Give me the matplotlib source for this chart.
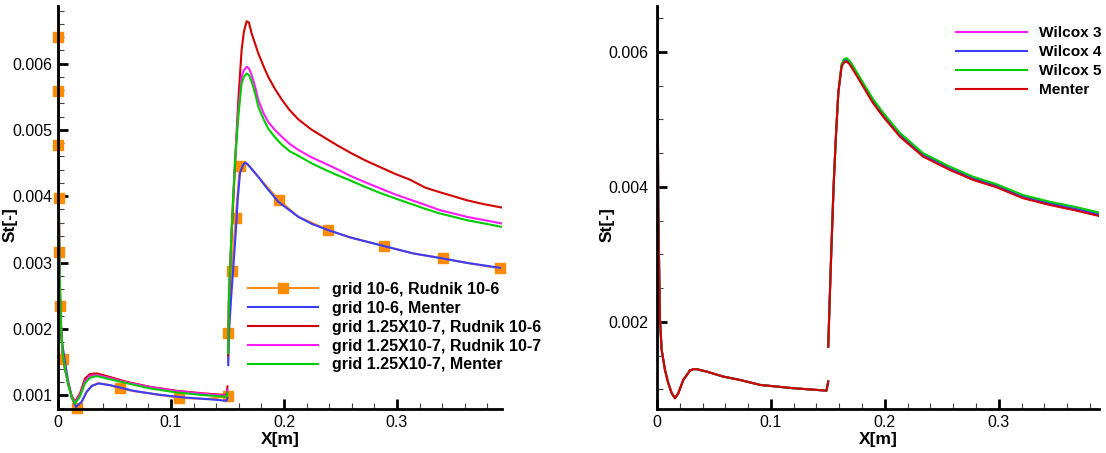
import numpy as np
import matplotlib
matplotlib.use("Agg")
import matplotlib.pyplot as plt
from matplotlib.ticker import MultipleLocator, FixedLocator, FixedFormatter

plt.rcParams['font.family'] = ['Liberation Sans', 'DejaVu Sans']

nan = np.nan

# ---------------- left panel data ----------------
# grid 10-6, Rudnik 10-6 (orange, markers at selected points)
or_x = [0.0, 0.0003, 0.0003, 0.0003, 0.0005, 0.0009, 0.0018, 0.0041, 0.0091, 0.0121,
        0.0165, 0.021, 0.0254, 0.0298, 0.0357, 0.046, 0.0549, 0.0667, 0.0873, 0.1074,
        0.1316, 0.1502, nan, 0.1505, 0.1507, 0.1537, 0.1572, 0.1610, 0.1655, 0.1700,
        0.1773, 0.1956, 0.2127, 0.2392, 0.2584, 0.2888, 0.3145, 0.3404, 0.3617, 0.3912]
or_y = [0.00687, 0.006395, 0.005585, 0.004771, 0.003967, 0.003162, 0.002347, 0.001538, 0.00118, 0.00096,
        0.00080, 0.00090, 0.00105, 0.00114, 0.00118, 0.00115, 0.00110, 0.00106, 0.00101, 0.00096,
        0.00094, 0.00098, nan, 0.00150, 0.00194, 0.002875, 0.003665, 0.00446, 0.00451, 0.00444,
        0.00429, 0.00394, 0.00369, 0.00349, 0.00338, 0.003247, 0.003137, 0.003062, 0.002995, 0.002912]
or_marks = [1, 2, 3, 4, 5, 6, 7, 10, 16, 19, 21, 24, 25, 26, 27, 31, 33, 35, 37, 39]

# grid 10-6, Menter (blue)
bl_x = [0.0, 0.0002, 0.0005, 0.001, 0.0018, 0.0033, 0.0062, 0.0091, 0.0121, 0.0159,
        0.021, 0.0254, 0.0298, 0.0357, 0.046, 0.0667, 0.0873, 0.1109, 0.1316, 0.1493, 0.1500,
        nan, 0.1507, 0.1513, 0.1531, 0.1552, 0.1573, 0.159, 0.1611, 0.1635, 0.1655, 0.1675,
        0.170, 0.1735, 0.1773, 0.185, 0.195, 0.2127, 0.225, 0.2392, 0.2584, 0.2888, 0.3145,
        0.3404, 0.3617, 0.3912]
bl_y = [0.0075, 0.0058, 0.0042, 0.0031, 0.00225, 0.00183, 0.00150, 0.00120, 0.00097, 0.00082,
        0.00090, 0.00105, 0.001136, 0.001176, 0.00115, 0.001065, 0.00101, 0.000965, 0.00094, 0.000914, 0.00096,
        nan, 0.00145, 0.00193, 0.00243, 0.002935, 0.00344, 0.00394, 0.00435, 0.00446, 0.004504, 0.00449,
        0.00444, 0.00437, 0.004293, 0.00412, 0.003916, 0.003689, 0.00358, 0.003489, 0.003379, 0.003247, 0.003137,
        0.003062, 0.002995, 0.00292]

# shared x for the fine grid curves
fg_x = [0.0, 0.0003, 0.0008, 0.0015, 0.0025, 0.0040, 0.0062, 0.0091, 0.0121, 0.0150,
        0.0195, 0.0239, 0.0283, 0.0342, 0.0431, 0.0608, 0.0814, 0.105, 0.1286, 0.1493, 0.1500,
        nan, 0.1505, 0.1513, 0.1537, 0.1566, 0.1596, 0.1625, 0.1645, 0.1670, 0.1690, 0.1714,
        0.1745, 0.1773, 0.1820, 0.1861, 0.1920, 0.198, 0.2050, 0.2127, 0.2240, 0.2363,
        0.2470, 0.2584, 0.2720, 0.2850, 0.2980, 0.3115, 0.3250, 0.3380, 0.3500, 0.3617,
        0.3770, 0.3926]

# grid 1.25X10-7, Rudnik 10-6 (red)
rd_y = [0.0075, 0.0055, 0.0038, 0.0028, 0.0021, 0.00165, 0.00140, 0.00117, 0.00099, 0.00090,
        0.001026, 0.00125, 0.001317, 0.001327, 0.001287, 0.0012, 0.001125, 0.001065, 0.001026, 0.0010, 0.00113,
        nan, 0.00160, 0.00243, 0.00344, 0.00444, 0.00545, 0.0062, 0.00648, 0.006641, 0.00662, 0.006455,
        0.00630, 0.006154, 0.00596, 0.0058, 0.00562, 0.00546, 0.00530, 0.00516, 0.00501, 0.00488,
        0.00477, 0.00466, 0.00454, 0.00444, 0.00434, 0.00425, 0.00413, 0.00406, 0.00400, 0.00394,
        0.00388, 0.00383]

# grid 1.25X10-7, Rudnik 10-7 (magenta)
mg_y = [0.0075, 0.0055, 0.0038, 0.0028, 0.0021, 0.00165, 0.00140, 0.00116, 0.00098, 0.00089,
        0.00100, 0.00121, 0.00129, 0.00130, 0.00127, 0.00119, 0.00112, 0.00106, 0.00102, 0.00099, 0.00108,
        nan, 0.00165, 0.0025, 0.0035, 0.0045, 0.0053, 0.0058, 0.00590, 0.005952, 0.00593, 0.00583,
        0.00565, 0.00545, 0.00525, 0.00512, 0.00500, 0.00490, 0.00479, 0.00470, 0.00459, 0.004495,
        0.00441, 0.00431, 0.00421, 0.00412, 0.00403, 0.00395, 0.00387, 0.00379, 0.00374, 0.00369,
        0.00364, 0.00359]

# grid 1.25X10-7, Menter (green)
gr_y = [0.0075, 0.0055, 0.0038, 0.0028, 0.0021, 0.00165, 0.00140, 0.00115, 0.00097, 0.00087,
        0.00098, 0.00118, 0.00126, 0.001287, 0.00125, 0.00118, 0.0011, 0.00104, 0.0010, 0.000975, 0.00104,
        nan, 0.00163, 0.0025, 0.0035, 0.0045, 0.0052, 0.0057, 0.00580, 0.005852, 0.00583, 0.00573,
        0.00555, 0.005349, 0.00516, 0.00502, 0.00489, 0.00478, 0.00468, 0.00461, 0.00450, 0.00440,
        0.00432, 0.00424, 0.00414, 0.00405, 0.00397, 0.00389, 0.00381, 0.00374, 0.00369, 0.00364,
        0.00359, 0.003538]

left_labels = ["grid 10-6, Rudnik 10-6", "grid 10-6, Menter",
               "grid 1.25X10-7, Rudnik 10-6", "grid 1.25X10-7, Rudnik 10-7",
               "grid 1.25X10-7, Menter"]

# ---------------- right panel data ----------------
r_x = [0.0003, 0.0006, 0.0011, 0.002, 0.0026, 0.0041, 0.007, 0.0099, 0.0129, 0.0158,
       0.0187, 0.0231, 0.0289, 0.0319, 0.0348, 0.0436, 0.0582, 0.0728, 0.0904, 0.1196, 0.1488, 0.1503,
       nan, 0.1503, 0.1525, 0.1550, 0.1572, 0.1592, 0.1620, 0.1640, 0.1664, 0.1690, 0.1722, 0.181, 0.1897,
       0.1985, 0.2132, 0.2336, 0.257, 0.2775, 0.298, 0.3213, 0.3447, 0.3682, 0.388]
r_seg1 = [0.0070, 0.0055, 0.003708, 0.002671, 0.00203, 0.001585, 0.001289, 0.001092, 0.000944, 0.00087,
          0.000944, 0.001141, 0.001279, 0.0013, 0.0013, 0.001264, 0.00119, 0.001141, 0.001067, 0.001018, 0.000982, 0.001116]

menter_y = r_seg1 + [nan, 0.001634, 0.0028, 0.0040, 0.0048, 0.0054, 0.00578, 0.00584, 0.005857, 0.00582, 0.005733,
                     0.005486, 0.00524, 0.005041, 0.004745, 0.004449, 0.004252, 0.004104, 0.003995, 0.003833,
                     0.003733, 0.003649, 0.00357]
wilcox3_y = r_seg1 + [nan, 0.001634, 0.0028, 0.0040, 0.0048, 0.0054, 0.00579, 0.00586, 0.00588, 0.00584, 0.00575,
                      0.0055, 0.005255, 0.005055, 0.004755, 0.00446, 0.00426, 0.004112, 0.004003, 0.00384,
                      0.00374, 0.003656, 0.003578]
wilcox4_y = r_seg1 + [nan, 0.001634, 0.0028, 0.0040, 0.0048, 0.0054, 0.0058, 0.00587, 0.00589, 0.00585, 0.00577,
                      0.00552, 0.005275, 0.005075, 0.004775, 0.00448, 0.00428, 0.00413, 0.00402, 0.003858,
                      0.003757, 0.003672, 0.003593]
wilcox5_y = r_seg1 + [nan, 0.001634, 0.0028, 0.0040, 0.0048, 0.0054, 0.00581, 0.00589, 0.005907, 0.00587, 0.00579,
                      0.00554, 0.0053, 0.0051, 0.0048, 0.0045, 0.0043, 0.00415, 0.00404, 0.00388,
                      0.00378, 0.0037, 0.00362]
right_labels = ["Wilcox 3", "Wilcox 4", "Wilcox 5", "Menter"]

c_orange = '#ff8c1a'
c_blue = '#3c3cff'
c_red = '#d40000'
c_mag = '#ff1aff'
c_green = '#00cc00'
lw = 1.5

fig = plt.figure(figsize=(11.06, 4.53), dpi=100)
ax1 = fig.add_axes([58/1106, 1 - 409/453, 444/1106, 403/453])
ax2 = fig.add_axes([657/1106, 1 - 409/453, 442/1106, 403/453])

ax1.plot(or_x, or_y, color=c_orange, lw=lw, marker='s', markersize=6.5,
         markevery=or_marks, markerfacecolor='#ff8c00', markeredgecolor='#ff8c00',
         clip_on=False, label=left_labels[0])
ax1.plot(bl_x, bl_y, color=c_blue, lw=lw, label=left_labels[1])
ax1.plot(fg_x, rd_y, color=c_red, lw=lw, label=left_labels[2])
ax1.plot(fg_x, mg_y, color=c_mag, lw=lw, label=left_labels[3])
ax1.plot(fg_x, gr_y, color=c_green, lw=lw, label=left_labels[4])
ax1.set_xlim(0, 0.393)
ax1.set_ylim(0.00079, 0.00687)

ax2.plot(r_x, wilcox3_y, color=c_mag, lw=lw, label=right_labels[0])
ax2.plot(r_x, wilcox4_y, color=c_blue, lw=lw, label=right_labels[1])
ax2.plot(r_x, wilcox5_y, color=c_green, lw=lw, label=right_labels[2])
ax2.plot(r_x, menter_y, color=c_red, lw=lw, label=right_labels[3])
ax2.set_xlim(0, 0.388)
ax2.set_ylim(0.00071, 0.00668)

for ax in (ax1, ax2):
    for s in ('top', 'right'):
        ax.spines[s].set_visible(False)
    for s in ('left', 'bottom'):
        ax.spines[s].set_linewidth(2.0)
    ax.xaxis.set_major_locator(FixedLocator([0, 0.1, 0.2, 0.3]))
    ax.xaxis.set_major_formatter(FixedFormatter(["0", "0.1", "0.2", "0.3"]))
    ax.xaxis.set_minor_locator(MultipleLocator(0.02))
    ax.tick_params(which='major', direction='in', length=7, width=2, labelsize=11.5, pad=4)
    ax.tick_params(which='minor', direction='in', length=4.3, width=0.8, color='#444444')
    ax.set_xlabel("X[m]", fontsize=12.5, fontweight='bold', labelpad=2)
    ax.set_ylabel("St[-]", fontsize=12.5, fontweight='bold')

ax1.yaxis.set_major_locator(FixedLocator([0.001, 0.002, 0.003, 0.004, 0.005, 0.006]))
ax1.yaxis.set_major_formatter(FixedFormatter(["0.001", "0.002", "0.003", "0.004", "0.005", "0.006"]))
ax1.yaxis.set_minor_locator(MultipleLocator(0.0002))
ax1.yaxis.set_label_coords(-0.09, 0.457)

ax2.yaxis.set_major_locator(FixedLocator([0.002, 0.004, 0.006]))
ax2.yaxis.set_major_formatter(FixedFormatter(["0.002", "0.004", "0.006"]))
ax2.yaxis.set_minor_locator(MultipleLocator(0.0005))
ax2.yaxis.set_label_coords(-0.095, 0.457)
ax2.tick_params(axis='y', which='major', pad=6)

leg_common = dict(frameon=False, borderpad=0, borderaxespad=0, numpoints=1, loc='upper left')
ax1.legend(bbox_to_anchor=(248/1106, 1 - 282/453), bbox_transform=fig.transFigure,
           prop={'weight': 'bold', 'size': 11.5}, handlelength=4.38, handletextpad=0.88,
           labelspacing=0.24, **leg_common)
ax2.legend(bbox_to_anchor=(956/1106, 1 - 26/453), bbox_transform=fig.transFigure,
           prop={'weight': 'bold', 'size': 11.1}, handlelength=4.6, handletextpad=0.77,
           labelspacing=0.33, **leg_common)

fig.savefig("out.png", dpi=100)
